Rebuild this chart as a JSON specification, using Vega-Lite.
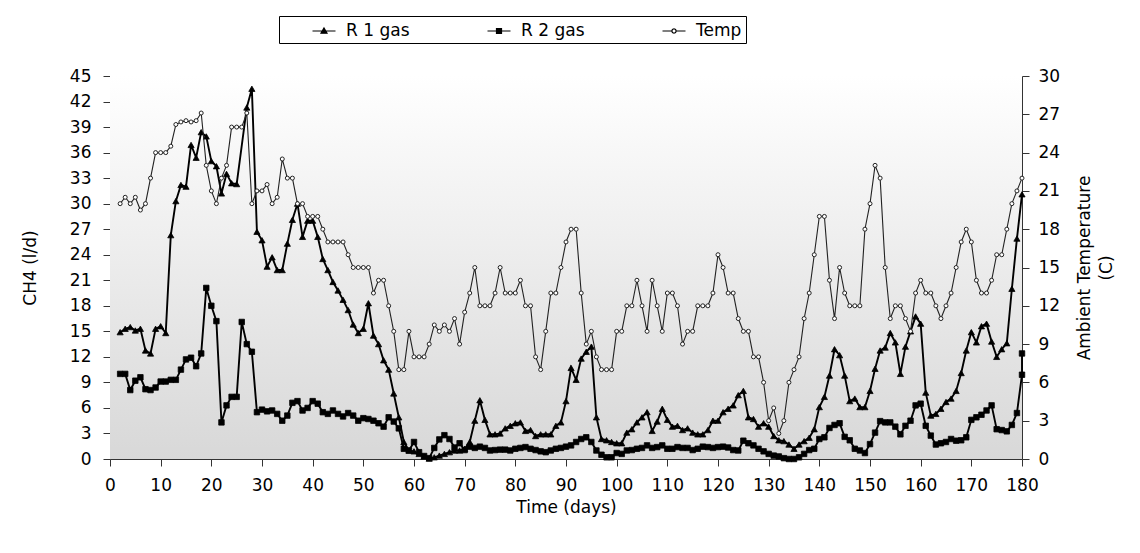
{
  "$schema": "https://vega.github.io/schema/vega-lite/v6.json",
  "width": 912,
  "height": 383,
  "autosize": "none",
  "padding": {"left": 110, "top": 76, "right": 118, "bottom": 94},
  "background": "white",
  "config": {
    "font": "DejaVu Sans",
    "view": {"stroke": null},
    "axis": {
      "labelFont": "DejaVu Sans", "labelFontSize": 17, "labelColor": "black",
      "titleFont": "DejaVu Sans", "titleFontSize": 17, "titleFontWeight": "normal", "titleColor": "black",
      "domainColor": "#333333", "tickColor": "#333333", "grid": false, "tickSize": 7, "domainWidth": 1, "tickWidth": 1
    },
    "legend": {
      "orient": "none", "legendX": 169, "legendY": -60, "direction": "horizontal", "columns": 3,
      "strokeColor": "black", "fillColor": "white", "padding": 4,
      "labelFont": "DejaVu Sans", "labelFontSize": 17, "labelColor": "black",
      "symbolSize": 400, "symbolOpacity": 1, "symbolStrokeColor": "black", "symbolStrokeWidth": 1.2,
      "labelOffset": 11, "columnPadding": 48, "gridAlign": "all", "symbolOffset": 30
    }
  },
  "data": {"values": [
    {"day":2,"r1":14.9,"r2":10.0,"temp":20},{"day":3,"r1":15.3,"r2":10.0,"temp":20.5},{"day":4,"r1":15.5,"r2":8.1,"temp":20},
    {"day":5,"r1":15.1,"r2":9.2,"temp":20.5},{"day":6,"r1":15.3,"r2":9.6,"temp":19.5},{"day":7,"r1":12.75,"r2":8.2,"temp":20},
    {"day":8,"r1":12.4,"r2":8.1,"temp":22},{"day":9,"r1":15.3,"r2":8.4,"temp":24},{"day":10,"r1":15.6,"r2":9.1,"temp":24},
    {"day":11,"r1":14.8,"r2":9.1,"temp":24},{"day":12,"r1":26.3,"r2":9.3,"temp":24.5},{"day":13,"r1":30.3,"r2":9.3,"temp":26.2},
    {"day":14,"r1":32.2,"r2":10.5,"temp":26.4},{"day":15,"r1":32.0,"r2":11.7,"temp":26.5},{"day":16,"r1":36.9,"r2":11.9,"temp":26.4},
    {"day":17,"r1":35.4,"r2":10.9,"temp":26.5},{"day":18,"r1":38.4,"r2":12.4,"temp":27.1},{"day":19,"r1":37.9,"r2":20.1,"temp":23},
    {"day":20,"r1":35.0,"r2":18.0,"temp":21},{"day":21,"r1":34.4,"r2":16.2,"temp":20},{"day":22,"r1":31.2,"r2":4.3,"temp":22},
    {"day":23,"r1":33.5,"r2":6.3,"temp":23},{"day":24,"r1":32.4,"r2":7.3,"temp":26},{"day":25,"r1":32.3,"r2":7.3,"temp":26},
    {"day":26,"r1":null,"r2":16.1,"temp":26},{"day":27,"r1":41.3,"r2":13.5,"temp":27.1},{"day":28,"r1":43.5,"r2":12.6,"temp":20},
    {"day":29,"r1":26.7,"r2":5.5,"temp":21},{"day":30,"r1":25.7,"r2":5.8,"temp":21},{"day":31,"r1":22.6,"r2":5.6,"temp":21.5},
    {"day":32,"r1":23.7,"r2":5.7,"temp":20},{"day":33,"r1":22.2,"r2":5.3,"temp":20.5},{"day":34,"r1":22.2,"r2":4.5,"temp":23.5},
    {"day":35,"r1":25.3,"r2":5.1,"temp":22},{"day":36,"r1":28.1,"r2":6.6,"temp":22},{"day":37,"r1":30.0,"r2":6.8,"temp":20},
    {"day":38,"r1":26.1,"r2":5.7,"temp":20},{"day":39,"r1":28.0,"r2":6.0,"temp":19},{"day":40,"r1":28.0,"r2":6.8,"temp":19},
    {"day":41,"r1":26.1,"r2":6.5,"temp":19},{"day":42,"r1":23.5,"r2":5.5,"temp":18},{"day":43,"r1":22.2,"r2":5.3,"temp":17},
    {"day":44,"r1":20.8,"r2":5.7,"temp":17},{"day":45,"r1":19.8,"r2":5.3,"temp":17},{"day":46,"r1":18.7,"r2":5.0,"temp":17},
    {"day":47,"r1":17.5,"r2":5.4,"temp":16},{"day":48,"r1":15.8,"r2":5.1,"temp":15},{"day":49,"r1":14.8,"r2":4.5,"temp":15},
    {"day":50,"r1":15.3,"r2":4.8,"temp":15},{"day":51,"r1":18.3,"r2":4.7,"temp":15},{"day":52,"r1":14.5,"r2":4.5,"temp":13},
    {"day":53,"r1":13.5,"r2":4.2,"temp":14},{"day":54,"r1":11.6,"r2":3.8,"temp":14},{"day":55,"r1":10.5,"r2":4.9,"temp":12},
    {"day":56,"r1":7.7,"r2":4.4,"temp":10},{"day":57,"r1":4.9,"r2":3.6,"temp":7},{"day":58,"r1":2.0,"r2":1.2,"temp":7},
    {"day":59,"r1":1.0,"r2":1.0,"temp":10},{"day":60,"r1":0.9,"r2":2.0,"temp":8},{"day":61,"r1":0.6,"r2":0.8,"temp":8},
    {"day":62,"r1":0.3,"r2":0.35,"temp":8},{"day":63,"r1":0.05,"r2":0.1,"temp":9},{"day":64,"r1":0.2,"r2":1.3,"temp":10.5},
    {"day":65,"r1":0.4,"r2":2.3,"temp":10},{"day":66,"r1":0.6,"r2":2.8,"temp":10.5},{"day":67,"r1":0.8,"r2":2.35,"temp":10},
    {"day":68,"r1":1.0,"r2":1.35,"temp":11},{"day":69,"r1":1.0,"r2":1.85,"temp":9},{"day":70,"r1":1.2,"r2":1.05,"temp":11.5},
    {"day":71,"r1":2.0,"r2":1.45,"temp":13},{"day":72,"r1":4.5,"r2":1.3,"temp":15},{"day":73,"r1":6.9,"r2":1.45,"temp":12},
    {"day":74,"r1":4.6,"r2":1.3,"temp":12},{"day":75,"r1":2.9,"r2":1.0,"temp":12},{"day":76,"r1":2.9,"r2":1.05,"temp":13},
    {"day":77,"r1":3.0,"r2":1.1,"temp":15},{"day":78,"r1":3.6,"r2":1.1,"temp":13},{"day":79,"r1":3.9,"r2":1.0,"temp":13},
    {"day":80,"r1":4.2,"r2":1.2,"temp":13},{"day":81,"r1":4.3,"r2":1.3,"temp":14},{"day":82,"r1":3.3,"r2":1.4,"temp":12},
    {"day":83,"r1":3.4,"r2":1.2,"temp":12},{"day":84,"r1":2.7,"r2":1.05,"temp":8},{"day":85,"r1":2.9,"r2":0.9,"temp":7},
    {"day":86,"r1":2.9,"r2":0.8,"temp":10},{"day":87,"r1":2.9,"r2":1.0,"temp":13},{"day":88,"r1":3.9,"r2":1.2,"temp":13},
    {"day":89,"r1":4.3,"r2":1.3,"temp":15},{"day":90,"r1":6.8,"r2":1.45,"temp":17},{"day":91,"r1":10.7,"r2":1.6,"temp":18},
    {"day":92,"r1":9.3,"r2":2.0,"temp":18},{"day":93,"r1":11.8,"r2":2.35,"temp":13},{"day":94,"r1":12.6,"r2":2.55,"temp":9},
    {"day":95,"r1":13.2,"r2":2.0,"temp":10},{"day":96,"r1":4.9,"r2":1.0,"temp":8},{"day":97,"r1":2.35,"r2":0.5,"temp":7},
    {"day":98,"r1":2.2,"r2":0.2,"temp":7},{"day":99,"r1":2.0,"r2":0.2,"temp":7},{"day":100,"r1":1.85,"r2":0.7,"temp":10},
    {"day":101,"r1":1.85,"r2":0.6,"temp":10},{"day":102,"r1":3.1,"r2":1.0,"temp":12},{"day":103,"r1":3.5,"r2":1.05,"temp":12},
    {"day":104,"r1":4.3,"r2":1.2,"temp":14},{"day":105,"r1":4.9,"r2":1.3,"temp":12},{"day":106,"r1":5.5,"r2":1.6,"temp":10},
    {"day":107,"r1":3.3,"r2":1.3,"temp":14},{"day":108,"r1":4.4,"r2":1.4,"temp":12},{"day":109,"r1":5.9,"r2":1.6,"temp":10},
    {"day":110,"r1":4.6,"r2":1.2,"temp":13},{"day":111,"r1":3.8,"r2":1.2,"temp":13},{"day":112,"r1":3.9,"r2":1.4,"temp":12},
    {"day":113,"r1":3.4,"r2":1.3,"temp":9},{"day":114,"r1":3.6,"r2":1.3,"temp":10},{"day":115,"r1":3.1,"r2":1.05,"temp":10},
    {"day":116,"r1":2.9,"r2":1.2,"temp":12},{"day":117,"r1":2.9,"r2":1.45,"temp":12},{"day":118,"r1":3.4,"r2":1.4,"temp":12},
    {"day":119,"r1":4.5,"r2":1.3,"temp":13},{"day":120,"r1":4.5,"r2":1.4,"temp":16},{"day":121,"r1":5.5,"r2":1.45,"temp":15},
    {"day":122,"r1":5.9,"r2":1.35,"temp":13},{"day":123,"r1":6.3,"r2":1.05,"temp":13},{"day":124,"r1":7.5,"r2":1.0,"temp":11},
    {"day":125,"r1":8.0,"r2":2.15,"temp":10},{"day":126,"r1":4.9,"r2":1.85,"temp":10},{"day":127,"r1":4.7,"r2":1.6,"temp":8},
    {"day":128,"r1":3.8,"r2":1.2,"temp":8},{"day":129,"r1":4.2,"r2":0.9,"temp":6},{"day":130,"r1":3.8,"r2":0.6,"temp":3},
    {"day":131,"r1":2.7,"r2":0.4,"temp":4},{"day":132,"r1":2.2,"r2":0.3,"temp":2},{"day":133,"r1":2.1,"r2":0.1,"temp":3},
    {"day":134,"r1":1.7,"r2":0.0,"temp":6},{"day":135,"r1":1.2,"r2":0.0,"temp":7},{"day":136,"r1":1.7,"r2":0.2,"temp":8},
    {"day":137,"r1":2.1,"r2":0.6,"temp":11},{"day":138,"r1":2.5,"r2":1.05,"temp":13},{"day":139,"r1":3.5,"r2":1.2,"temp":16},
    {"day":140,"r1":6.1,"r2":2.35,"temp":19},{"day":141,"r1":7.3,"r2":2.55,"temp":19},{"day":142,"r1":9.8,"r2":3.65,"temp":14},
    {"day":143,"r1":12.9,"r2":4.0,"temp":11},{"day":144,"r1":12.2,"r2":4.2,"temp":15},{"day":145,"r1":9.8,"r2":2.6,"temp":13},
    {"day":146,"r1":6.8,"r2":2.2,"temp":12},{"day":147,"r1":7.1,"r2":1.2,"temp":12},{"day":148,"r1":6.1,"r2":1.0,"temp":12},
    {"day":149,"r1":6.1,"r2":0.7,"temp":18},{"day":150,"r1":8.0,"r2":1.75,"temp":20},{"day":151,"r1":10.6,"r2":3.1,"temp":23},
    {"day":152,"r1":12.75,"r2":4.45,"temp":22},{"day":153,"r1":13.1,"r2":4.3,"temp":15},{"day":154,"r1":14.8,"r2":4.3,"temp":11},
    {"day":155,"r1":13.7,"r2":3.8,"temp":12},{"day":156,"r1":10.0,"r2":2.9,"temp":12},{"day":157,"r1":13.2,"r2":3.9,"temp":11},
    {"day":158,"r1":15.0,"r2":4.5,"temp":10},{"day":159,"r1":16.75,"r2":6.3,"temp":13},{"day":160,"r1":15.9,"r2":6.5,"temp":14},
    {"day":161,"r1":7.8,"r2":3.9,"temp":13},{"day":162,"r1":5.1,"r2":2.75,"temp":13},{"day":163,"r1":5.3,"r2":1.7,"temp":12},
    {"day":164,"r1":5.9,"r2":1.85,"temp":11},{"day":165,"r1":6.7,"r2":2.0,"temp":12},{"day":166,"r1":7.1,"r2":2.35,"temp":13},
    {"day":167,"r1":8.0,"r2":2.15,"temp":15},{"day":168,"r1":10.1,"r2":2.2,"temp":17},{"day":169,"r1":12.75,"r2":2.55,"temp":18},
    {"day":170,"r1":14.9,"r2":4.6,"temp":17},{"day":171,"r1":13.7,"r2":4.9,"temp":14},{"day":172,"r1":15.6,"r2":5.2,"temp":13},
    {"day":173,"r1":15.9,"r2":5.7,"temp":13},{"day":174,"r1":13.8,"r2":6.3,"temp":14},{"day":175,"r1":12.0,"r2":3.5,"temp":16},
    {"day":176,"r1":12.9,"r2":3.4,"temp":16},{"day":177,"r1":13.6,"r2":3.25,"temp":18},{"day":178,"r1":20.0,"r2":4.0,"temp":20},
    {"day":179,"r1":25.9,"r2":5.4,"temp":21},{"day":180,"r1":31.1,"r2":9.9,"temp":22},{"day":180,"r1":null,"r2":12.4,"temp":null}
  ]},
  "resolve": {"scale": {"y": "independent"}},
  "layer": [
    {
      "data": {"values": [{"panel": "background"}]},
      "mark": {"type": "rect", "fill": {"gradient": "linear", "x1": 0, "y1": 0, "x2": 0, "y2": 1,
        "stops": [{"offset": 0, "color": "#ffffff"}, {"offset": 1, "color": "#d8d8d8"}]}},
      "encoding": {}
    },
    {
      "transform": [
        {"fold": ["r1", "r2", "temp"], "as": ["series", "value"]},
        {"filter": "isValid(datum.value)"}
      ],
      "mark": {"type": "point", "filled": true, "opacity": 0, "strokeWidth": 1.2, "size": 400},
      "encoding": {
        "shape": {"field": "series", "type": "nominal",
          "scale": {"domain": ["r1", "r2", "temp"], "range": [
            "M-1.15,0H1.15M0,-0.3L0.3,0.22L-0.3,0.22Z",
            "M-1.15,0H1.15M-0.25,-0.25H0.25V0.25H-0.25Z",
            "M-1.15,0H-0.22M0.22,0H1.15M-0.22,0L-0.156,-0.156L0,-0.22L0.156,-0.156L0.22,0L0.156,0.156L0,0.22L-0.156,0.156Z"]},
          "legend": {"title": null, "labelExpr": "datum.value === 'r1' ? 'R 1 gas' : datum.value === 'r2' ? 'R 2 gas' : 'Temp'"}},
        "fill": {"field": "series", "type": "nominal",
          "scale": {"domain": ["r1", "r2", "temp"], "range": ["black", "black", "white"]},
          "legend": {"title": null, "labelExpr": "datum.value === 'r1' ? 'R 1 gas' : datum.value === 'r2' ? 'R 2 gas' : 'Temp'"}},
        "stroke": {"field": "series", "type": "nominal",
          "scale": {"domain": ["r1", "r2", "temp"], "range": ["black", "black", "black"]},
          "legend": {"title": null, "labelExpr": "datum.value === 'r1' ? 'R 1 gas' : datum.value === 'r2' ? 'R 2 gas' : 'Temp'"}}
      }
    },
    {
      "transform": [
        {"fold": ["r1", "r2", "temp"], "as": ["series", "value"]},
        {"filter": "datum.series !== 'temp' && isValid(datum.value)"}
      ],
      "encoding": {
        "x": {"field": "day", "type": "quantitative", "scale": {"domain": [0, 180], "nice": false},
          "axis": {"values": [0,10,20,30,40,50,60,70,80,90,100,110,120,130,140,150,160,170,180],
            "title": "Time (days)", "labelPadding": 11, "titlePadding": 6, "labelFlush": false}},
        "y": {"field": "value", "type": "quantitative", "scale": {"domain": [0, 45], "nice": false},
          "axis": {"orient": "left", "values": [0,3,6,9,12,15,18,21,24,27,30,33,36,39,42,45],
            "title": "CH4 (l/d)", "labelPadding": 12, "titlePadding": 30}}
      },
      "layer": [
        {"mark": {"type": "line", "stroke": "black", "strokeWidth": 1.9}, "encoding": {"detail": {"field": "series"}}},
        {"transform": [{"filter": "datum.series === 'r1'"}],
          "mark": {"type": "point", "shape": "triangle-up", "filled": true, "opacity": 1, "fill": "black", "stroke": "black", "strokeWidth": 0.8, "size": 38},
          "encoding": {}},
        {"transform": [{"filter": "datum.series === 'r2'"}],
          "mark": {"type": "point", "shape": "square", "filled": true, "opacity": 1, "fill": "black", "stroke": "black", "strokeWidth": 0.8, "size": 30},
          "encoding": {}}
      ]
    },
    {
      "transform": [
        {"fold": ["r1", "r2", "temp"], "as": ["series", "value"]},
        {"filter": "datum.series === 'temp' && isValid(datum.value)"}
      ],
      "encoding": {
        "x": {"field": "day", "type": "quantitative", "scale": {"domain": [0, 180], "nice": false}},
        "y": {"field": "value", "type": "quantitative", "scale": {"domain": [0, 30], "nice": false},
          "axis": {"orient": "right", "values": [0,3,6,9,12,15,18,21,24,27,30],
            "title": ["Ambient Temperature", "(C)"], "titleAngle": -90, "titleBaseline": "top",
            "titleLineHeight": 22, "labelPadding": 9, "titlePadding": -5}}
      },
      "layer": [
        {"mark": {"type": "line", "stroke": "#222222", "strokeWidth": 1.1}, "encoding": {}},
        {"mark": {"type": "point", "shape": "circle", "filled": true, "opacity": 1, "fill": "white", "stroke": "#222222", "strokeWidth": 1, "size": 16},
          "encoding": {}}
      ]
    }
  ]
}
